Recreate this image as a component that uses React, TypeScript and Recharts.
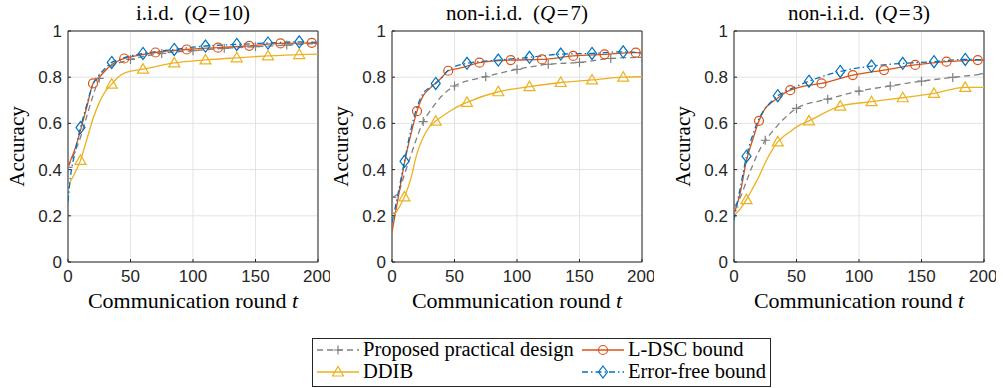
import React from 'react';
import { LineChart, Line, XAxis, YAxis, CartesianGrid, ReferenceArea } from 'recharts';

// ---------- data ----------
const X_TICKS = [0, 50, 100, 150, 200];
const Y_TICKS = [0, 0.2, 0.4, 0.6, 0.8, 1];

const PANEL_TITLES = [
  { pre: 'i.i.d.  (', q: 'Q', post: '\u200a=\u200a10)' },
  { pre: 'non-i.i.d.  (', q: 'Q', post: '\u200a=\u200a7)' },
  { pre: 'non-i.i.d.  (', q: 'Q', post: '\u200a=\u200a3)' },
];

const SERIES_NAMES = ['Proposed practical design', 'L-DSC bound', 'DDIB', 'Error-free bound'];

const PROPOSED_X = [0, 5, 10, 15, 20, 25, 30, 40, 50, 75, 100, 125, 150, 175, 200];
const LDSC_X = [0, 2, 5, 10, 15, 20, 25, 30, 35, 40, 45, 55, 70, 95, 120, 145, 170, 195, 200];
const DDIB_X = [0, 5, 10, 15, 20, 25, 30, 35, 40, 45, 50, 60, 85, 110, 135, 160, 185, 200];
const ERRFREE_X = [0, 2, 5, 10, 15, 20, 25, 30, 35, 40, 45, 60, 85, 110, 135, 160, 185, 200];

const PROPOSED_MARKERS = [0, 25, 50, 75, 100, 125, 150, 175, 200];
const LDSC_MARKERS = [20, 45, 70, 95, 120, 145, 170, 195];
const DDIB_MARKERS = [10, 35, 60, 85, 110, 135, 160, 185];
const ERRFREE_MARKERS = [10, 35, 60, 85, 110, 135, 160, 185];

// Panel 1: i.i.d. (Q=10)
const IID_PROPOSED = [0.41, 0.47, 0.54, 0.63, 0.72, 0.795, 0.83, 0.86, 0.877, 0.903, 0.915, 0.925, 0.932, 0.939, 0.946];
const IID_LDSC = [0.41, 0.44, 0.48, 0.57, 0.67, 0.773, 0.80, 0.83, 0.855, 0.87, 0.881, 0.893, 0.907, 0.92, 0.928, 0.936, 0.946, 0.949, 0.95];
const IID_DDIB = [0.33, 0.38, 0.44, 0.53, 0.62, 0.69, 0.74, 0.77, 0.80, 0.818, 0.826, 0.835, 0.862, 0.875, 0.884, 0.892, 0.898, 0.90];
const IID_ERRFREE = [0.26, 0.37, 0.46, 0.582, 0.68, 0.77, 0.81, 0.84, 0.864, 0.876, 0.885, 0.903, 0.92, 0.935, 0.942, 0.948, 0.953, 0.95];

// Panel 2: non-i.i.d. (Q=7)
const Q7_PROPOSED = [0.28, 0.30, 0.38, 0.46, 0.54, 0.608, 0.65, 0.72, 0.762, 0.802, 0.834, 0.856, 0.864, 0.881, 0.886];
const Q7_LDSC = [0.13, 0.19, 0.28, 0.43, 0.55, 0.653, 0.72, 0.75, 0.775, 0.80, 0.828, 0.84, 0.863, 0.874, 0.877, 0.892, 0.899, 0.906, 0.905];
const Q7_DDIB = [0.19, 0.23, 0.282, 0.36, 0.47, 0.54, 0.585, 0.61, 0.63, 0.648, 0.665, 0.691, 0.737, 0.759, 0.777, 0.788, 0.80, 0.802];
const Q7_ERRFREE = [0.17, 0.22, 0.30, 0.436, 0.57, 0.67, 0.73, 0.755, 0.773, 0.80, 0.83, 0.86, 0.874, 0.886, 0.90, 0.903, 0.91, 0.905];

// Panel 3: non-i.i.d. (Q=3)
const Q3_PROPOSED = [0.238, 0.28, 0.35, 0.42, 0.48, 0.527, 0.56, 0.62, 0.665, 0.705, 0.74, 0.762, 0.783, 0.799, 0.814];
const Q3_LDSC = [0.21, 0.24, 0.30, 0.44, 0.53, 0.611, 0.665, 0.69, 0.71, 0.73, 0.744, 0.76, 0.773, 0.809, 0.831, 0.853, 0.867, 0.874, 0.874];
const Q3_DDIB = [0.20, 0.23, 0.27, 0.32, 0.37, 0.43, 0.48, 0.52, 0.545, 0.565, 0.585, 0.611, 0.675, 0.694, 0.711, 0.73, 0.756, 0.756];
const Q3_ERRFREE = [0.18, 0.24, 0.32, 0.458, 0.55, 0.62, 0.665, 0.695, 0.72, 0.735, 0.748, 0.783, 0.825, 0.848, 0.86, 0.867, 0.877, 0.875];

// ---------- styles ----------
const COLORS = { proposed: '#808080', ldsc: '#D95319', ddib: '#EDB120', errfree: '#0072BD' };
const AXIS_COLOR = '#262626';
const SERIF = "'Liberation Serif', 'Times New Roman', serif";
const SANS = "'Liberation Sans', Arial, sans-serif";

const PLOT_LEFTS = [68, 392, 734];
const PLOT_TOP = 31;
const PLOT_BOTTOM = 262;
const PLOT_W = 250;
const TICK_IN = -3;

type Shape = 'plus' | 'circle' | 'triangle' | 'diamond';

function Marker({ shape, cx, cy, color }: { shape: Shape; cx: number; cy: number; color: string }) {
  const sw = 1.2;
  if (shape === 'plus') {
    return <path d={`M${cx - 4.5},${cy}H${cx + 4.5}M${cx},${cy - 4.5}V${cy + 4.5}`} stroke={color} strokeWidth={sw} fill="none" />;
  }
  if (shape === 'circle') {
    return <circle cx={cx} cy={cy} r={4.5} stroke={color} strokeWidth={sw} fill="none" />;
  }
  if (shape === 'triangle') {
    return <polygon points={`${cx},${cy - 5.5} ${cx - 5.5},${cy + 4} ${cx + 5.5},${cy + 4}`} stroke={color} strokeWidth={sw} fill="none" />;
  }
  return <polygon points={`${cx},${cy - 6} ${cx + 4.5},${cy} ${cx},${cy + 6} ${cx - 4.5},${cy}`} stroke={color} strokeWidth={sw} fill="none" />;
}

function makeDot(shape: Shape, color: string, markers: number[]) {
  return (props: any) => {
    const { cx, cy, payload, index } = props;
    if (!payload || !markers.includes(payload.x) || cx == null || cy == null) return <g key={`d${index}`} />;
    return (
      <g key={`d${index}`}>
        <Marker shape={shape} cx={cx} cy={cy} color={color} />
      </g>
    );
  };
}

function zip(xs: number[], ys: number[]) {
  return xs.map((x, i) => ({ x, y: ys[i] }));
}

const PANELS = [
  { proposed: IID_PROPOSED, ldsc: IID_LDSC, ddib: IID_DDIB, errfree: IID_ERRFREE },
  { proposed: Q7_PROPOSED, ldsc: Q7_LDSC, ddib: Q7_DDIB, errfree: Q7_ERRFREE },
  { proposed: Q3_PROPOSED, ldsc: Q3_LDSC, ddib: Q3_DDIB, errfree: Q3_ERRFREE },
];

const tickLineStyle = { stroke: AXIS_COLOR, strokeWidth: 1 };

function Panel({ idx }: { idx: number }) {
  const p = PANELS[idx];
  const left = PLOT_LEFTS[idx] - 68;
  return (
    <div style={{ position: 'absolute', left, top: 0 }}>
      <LineChart width={330} height={320} margin={{ top: PLOT_TOP, right: 12, left: 28, bottom: 28 }}>
        <CartesianGrid stroke="#e3e3e3" strokeWidth={1} />
        <XAxis
          type="number"
          dataKey="x"
          domain={[0, 200]}
          ticks={X_TICKS}
          allowDataOverflow
          axisLine={false}
          tickLine={tickLineStyle}
          tickSize={TICK_IN}
          tickMargin={11}
          height={30}
          tick={{ fontSize: 17, fill: AXIS_COLOR, fontFamily: SANS }}
        />
        <XAxis
          xAxisId="top"
          orientation="top"
          type="number"
          dataKey="x"
          domain={[0, 200]}
          ticks={X_TICKS}
          allowDataOverflow
          axisLine={false}
          tickLine={tickLineStyle}
          tickSize={TICK_IN}
          height={0}
          tick={{ fontSize: 0, fill: 'none' }}
        />
        <YAxis
          type="number"
          domain={[0, 1]}
          ticks={Y_TICKS}
          allowDataOverflow
          axisLine={false}
          tickLine={tickLineStyle}
          tickSize={TICK_IN}
          tickMargin={9}
          width={40}
          tick={{ fontSize: 17, fill: AXIS_COLOR, fontFamily: SANS }}
        />
        <YAxis
          yAxisId="right"
          orientation="right"
          type="number"
          domain={[0, 1]}
          ticks={Y_TICKS}
          allowDataOverflow
          axisLine={false}
          tickLine={tickLineStyle}
          tickSize={TICK_IN}
          width={0}
          tick={{ fontSize: 0, fill: 'none' }}
        />
        <ReferenceArea x1={0} x2={200} y1={0} y2={1} fill="none" stroke={AXIS_COLOR} strokeWidth={1} ifOverflow="visible" />
        <Line
          data={zip(PROPOSED_X, p.proposed)}
          dataKey="y"
          type="monotone"
          stroke={COLORS.proposed}
          strokeWidth={1.3}
          strokeDasharray="6 4"
          dot={makeDot('plus', COLORS.proposed, PROPOSED_MARKERS)}
          activeDot={false}
          isAnimationActive={false}
        />
        <Line
          data={zip(LDSC_X, p.ldsc)}
          dataKey="y"
          type="monotone"
          stroke={COLORS.ldsc}
          strokeWidth={1.3}
          dot={makeDot('circle', COLORS.ldsc, LDSC_MARKERS)}
          activeDot={false}
          isAnimationActive={false}
        />
        <Line
          data={zip(DDIB_X, p.ddib)}
          dataKey="y"
          type="monotone"
          stroke={COLORS.ddib}
          strokeWidth={1.3}
          dot={makeDot('triangle', COLORS.ddib, DDIB_MARKERS)}
          activeDot={false}
          isAnimationActive={false}
        />
        <Line
          data={zip(ERRFREE_X, p.errfree)}
          dataKey="y"
          type="monotone"
          stroke={COLORS.errfree}
          strokeWidth={1.3}
          strokeDasharray="6 3 1.5 3"
          dot={makeDot('diamond', COLORS.errfree, ERRFREE_MARKERS)}
          activeDot={false}
          isAnimationActive={false}
        />
      </LineChart>
    </div>
  );
}

function LegendSample({ x, y, color, dash, shape }: { x: number; y: number; color: string; dash?: string; shape: Shape }) {
  return (
    <g>
      <line x1={x} y1={y} x2={x + 42} y2={y} stroke={color} strokeWidth={1.3} strokeDasharray={dash} />
      <Marker shape={shape} cx={x + 21} cy={y} color={color} />
    </g>
  );
}

const serifStyle = (size: number): React.CSSProperties => ({ fontFamily: SERIF, fontSize: size, fill: '#000', whiteSpace: 'pre' });

function Overlay() {
  return (
    <svg width={1003} height={388} style={{ position: 'absolute', left: 0, top: 0, pointerEvents: 'none' }}>
      {PLOT_LEFTS.map((pl, i) => {
        const cx = pl + PLOT_W / 2;
        const cy = (PLOT_TOP + PLOT_BOTTOM) / 2;
        const t = PANEL_TITLES[i];
        return (
          <g key={i}>
            <text x={cx} y={20} textAnchor="middle" style={serifStyle(21)}>
              {t.pre}
              <tspan style={{ fontStyle: 'italic' }}>{t.q}</tspan>
              {t.post}
            </text>
            <text x={cx} y={308} textAnchor="middle" style={serifStyle(22)}>
              {'Communication round '}
              <tspan style={{ fontStyle: 'italic' }}>t</tspan>
            </text>
            <text x={pl - 44} y={cy} textAnchor="middle" transform={`rotate(-90 ${pl - 44} ${cy})`} style={serifStyle(21)}>
              Accuracy
            </text>
          </g>
        );
      })}
      <g>
        <rect x={312.5} y={338.5} width={458} height={48} fill="#fff" stroke={AXIS_COLOR} strokeWidth={1} />
        <LegendSample x={317} y={350} color={COLORS.proposed} dash="6 4" shape="plus" />
        <LegendSample x={582} y={350} color={COLORS.ldsc} shape="circle" />
        <LegendSample x={317} y={372} color={COLORS.ddib} shape="triangle" />
        <LegendSample x={582} y={372} color={COLORS.errfree} dash="6 3 1.5 3" shape="diamond" />
        <text x={363} y={356} style={serifStyle(20.5)}>{SERIES_NAMES[0]}</text>
        <text x={628} y={356} style={serifStyle(20.5)}>{SERIES_NAMES[1]}</text>
        <text x={363} y={378} style={serifStyle(20.5)}>{SERIES_NAMES[2]}</text>
        <text x={628} y={378} style={serifStyle(20.5)}>{SERIES_NAMES[3]}</text>
      </g>
    </svg>
  );
}

export default function App() {
  return (
    <div style={{ position: 'absolute', left: 0, top: 0, width: 1003, height: 388, background: '#fff', overflow: 'hidden' }}>
      {[0, 1, 2].map((i) => (
        <Panel key={i} idx={i} />
      ))}
      <Overlay />
    </div>
  );
}
